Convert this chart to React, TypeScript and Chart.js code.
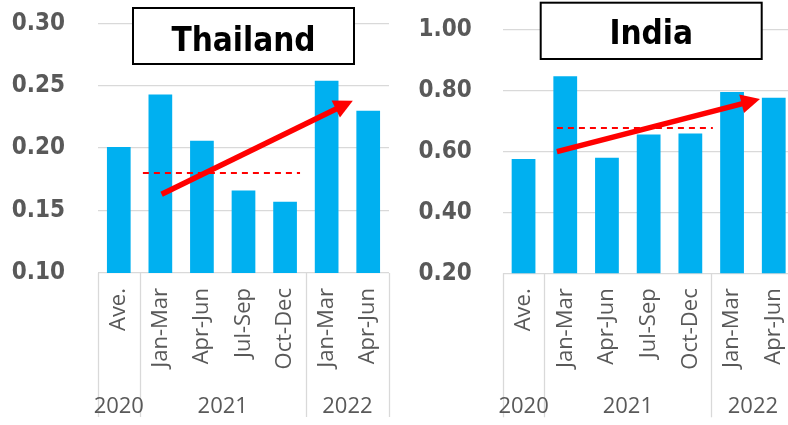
import React, { useEffect, useRef } from "react";
import { Chart, registerables } from "chart.js";
Chart.register(...registerables);

// ---- data ----
const quarterLabels = ["Ave.", "Jan-Mar", "Apr-Jun", "Jul-Sep", "Oct-Dec", "Jan-Mar", "Apr-Jun"];
const yearLabels = ["2020", "2021", "2022"];
const yearSpans = [1, 4, 2];

const thailandValues = [0.201, 0.243, 0.206, 0.166, 0.157, 0.254, 0.230];
const thailandRange = [0.1, 0.3, 0.05];
// [from category index, to category index, value]
const thailandAvgLine = [0.58, 4.36, 0.18];
// [start index, start value, end index, end value]
const thailandArrow = [1.03, 0.163, 5.63, 0.238];

const indiaValues = [0.576, 0.848, 0.58, 0.656, 0.66, 0.796, 0.777];
const indiaRange = [0.2, 1.0, 0.2];
const indiaAvgLine = [0.8, 4.54, 0.678];
const indiaArrow = [0.8, 0.6, 5.67, 0.773];

const BAR = "#00B0F0";
const GRID = "#D9D9D9";
const TXT = "#595959";
const RED = "#FF0000";

type PanelProps = {
  left: number;
  width: number;
  height: number;
  values: number[];
  range: number[];
  title: string;
  box: number[];
  titleBaseline: number;
  avg: number[];
  arrow: number[];
  axisWidth: number;
  padTop: number;
  padRight: number;
  tickPad: number;
  plotBottom: number;
};

function Panel(p: PanelProps) {
  const ref = useRef<HTMLCanvasElement>(null);
  useEffect(() => {
    const canvas = ref.current!;
    const overlay = {
      id: "overlay",
      afterDatasetsDraw(chart: any) {
        const ctx = chart.ctx;
        const xs = chart.scales.x;
        const ys = chart.scales.y;
        ctx.save();
        // dashed average line
        ctx.strokeStyle = RED;
        ctx.lineWidth = 2;
        ctx.setLineDash([6, 5]);
        ctx.beginPath();
        const ay = ys.getPixelForValue(p.avg[2]);
        ctx.moveTo(xs.getPixelForValue(p.avg[0]), ay);
        ctx.lineTo(xs.getPixelForValue(p.avg[1]), ay);
        ctx.stroke();
        ctx.setLineDash([]);
        // arrow
        const x0 = xs.getPixelForValue(p.arrow[0]);
        const y0 = ys.getPixelForValue(p.arrow[1]);
        const x1 = xs.getPixelForValue(p.arrow[2]);
        const y1 = ys.getPixelForValue(p.arrow[3]);
        const ang = Math.atan2(y1 - y0, x1 - x0);
        const hl = 19, hw = 9.5;
        const c = Math.cos(ang), s = Math.sin(ang);
        const bx = x1 - hl * c, by = y1 - hl * s;
        ctx.lineWidth = 5.5;
        ctx.beginPath();
        ctx.moveTo(x0, y0);
        ctx.lineTo(bx + 2 * c, by + 2 * s);
        ctx.stroke();
        ctx.fillStyle = RED;
        ctx.beginPath();
        ctx.moveTo(x1, y1);
        ctx.lineTo(bx - hw * s, by + hw * c);
        ctx.lineTo(bx + hw * s, by - hw * c);
        ctx.closePath();
        ctx.fill();
        ctx.restore();
      },
      afterDraw(chart: any) {
        const ctx = chart.ctx;
        const xs = chart.scales.x;
        const bottom = chart.chartArea.bottom;
        ctx.save();
        // group separators and year labels
        ctx.strokeStyle = GRID;
        ctx.lineWidth = 1.3;
        let start = -0.5;
        const bounds = [start];
        yearSpans.forEach((sp) => {
          start += sp;
          bounds.push(start);
        });
        bounds.forEach((b) => {
          const px = Math.round(xs.getPixelForValue(b)) + 0.5;
          ctx.beginPath();
          ctx.moveTo(px, bottom);
          ctx.lineTo(px, bottom + 144);
          ctx.stroke();
        });
        ctx.fillStyle = TXT;
        ctx.font = "22px 'Open Sans'";
        ctx.textAlign = "center";
        ctx.textBaseline = "alphabetic";
        yearLabels.forEach((lab, i) => {
          const mid = (bounds[i] + bounds[i + 1]) / 2;
          ctx.fillText(lab, xs.getPixelForValue(mid), bottom + 140);
        });
        // title box
        const [bx, by, bw, bh] = p.box;
        ctx.fillStyle = "#FFFFFF";
        ctx.fillRect(bx, by, bw, bh);
        ctx.strokeStyle = "#000000";
        ctx.lineWidth = 2;
        ctx.strokeRect(bx, by, bw, bh);
        ctx.fillStyle = "#000000";
        ctx.font = "bold 33px 'DejaVu Sans Condensed', 'DejaVu Sans'";
        ctx.textAlign = "center";
        ctx.fillText(p.title, bx + bw / 2, p.titleBaseline);
        ctx.restore();
      },
    };
    const chart = new Chart(canvas, {
      type: "bar",
      data: {
        labels: quarterLabels,
        datasets: [
          {
            data: p.values,
            backgroundColor: BAR,
            borderWidth: 0,
            barPercentage: 0.57,
            categoryPercentage: 1,
          },
        ],
      },
      options: {
        responsive: false,
        animation: false,
        devicePixelRatio: 1,
        layout: { padding: { top: p.padTop, right: p.padRight, left: 0, bottom: 0 } },
        plugins: { legend: { display: false }, tooltip: { enabled: false }, title: { display: false } },
        scales: {
          x: {
            grid: { display: false, drawTicks: false, tickLength: 0 },
            border: { display: false },
            ticks: {
              autoSkip: false,
              minRotation: 90,
              maxRotation: 90,
              padding: 15,
              color: TXT,
              font: { family: "'Open Sans'", size: 22 },
            },
            afterFit: (sc: any) => {
              sc.height = p.height - p.plotBottom;
              sc.paddingLeft = 0;
              sc.paddingRight = 0;
            },
          },
          y: {
            min: p.range[0],
            max: p.range[1],
            grid: { color: GRID, lineWidth: 1.3, drawTicks: false, tickLength: 0 },
            border: { display: false },
            ticks: {
              stepSize: p.range[2],
              padding: p.tickPad,
              color: TXT,
              font: { family: "'DejaVu Sans Condensed', 'DejaVu Sans'", size: 24, weight: "bold" },
              callback: (v: any) => Number(v).toFixed(2),
            },
            afterFit: (sc: any) => {
              sc.width = p.axisWidth;
              sc.paddingTop = 0;
              sc.paddingBottom = 0;
            },
          },
        },
      },
      plugins: [overlay],
    } as any);
    return () => chart.destroy();
  }, []);
  return (
    <canvas
      ref={ref}
      width={p.width}
      height={p.height}
      style={{ position: "absolute", left: p.left, top: 0, width: p.width, height: p.height, display: "block" }}
    />
  );
}

export default function App() {
  return (
    <div
      style={{
        position: "fixed",
        left: 0,
        top: 0,
        width: 788,
        height: 425,
        overflow: "hidden",
        background: "#FFFFFF",
      }}
    >
      <Panel
        left={0}
        width={394}
        height={425}
        values={thailandValues}
        range={thailandRange}
        title="Thailand"
        box={[133, 8, 221, 56]}
        titleBaseline={50.5}
        avg={thailandAvgLine}
        arrow={thailandArrow}
        axisWidth={98}
        padTop={23.3}
        padRight={5}
        tickPad={33}
        plotBottom={273}
      />
      <Panel
        left={400}
        width={400}
        height={425}
        values={indiaValues}
        range={indiaRange}
        title="India"
        box={[140.7, 2.7, 221, 56.3]}
        titleBaseline={44.3}
        avg={indiaAvgLine}
        arrow={indiaArrow}
        axisWidth={102.7}
        padTop={30}
        padRight={5.4}
        tickPad={31}
        plotBottom={273.3}
      />
    </div>
  );
}
